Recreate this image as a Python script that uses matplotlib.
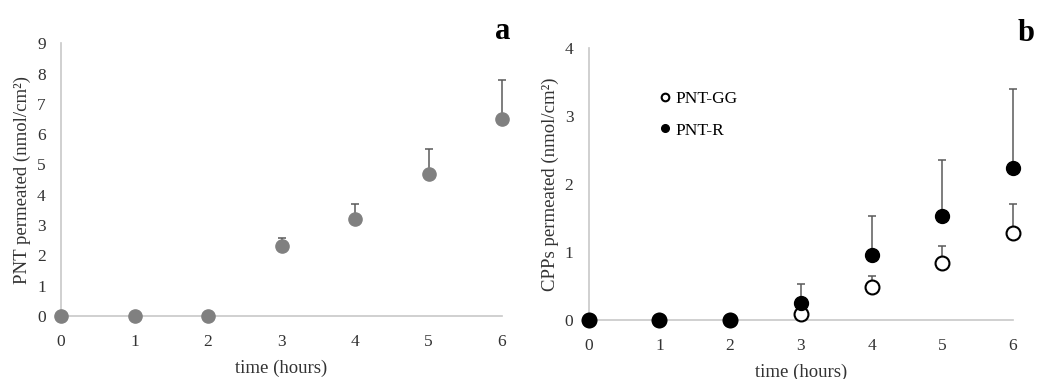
import matplotlib.pyplot as plt
import numpy as np

plt.rcParams['font.family'] = ['Liberation Serif', 'DejaVu Serif']

hours = [0, 1, 2, 3, 4, 5, 6]

# panel a
pnt = [0, 0, 0, 2.3, 3.2, 4.7, 6.5]
pnt_err = [0, 0, 0, 0.28, 0.5, 0.8, 1.3]

# panel b
pnt_gg = [0, 0, 0, 0.09, 0.48, 0.83, 1.27]
pnt_gg_err = [0, 0, 0, 0, 0.17, 0.25, 0.43]
pnt_r = [0, 0, 0, 0.25, 0.95, 1.52, 2.23]
pnt_r_err = [0, 0, 0, 0.28, 0.58, 0.83, 1.17]

fig = plt.figure(figsize=(10.4, 3.79), dpi=100)
ax1 = fig.add_axes([0.0587, 0.166, 0.424, 0.720])
ax2 = fig.add_axes([0.566, 0.156, 0.408, 0.718])

err_col = '#5a5a5a'
spine_col = '#c8c8c8'


def style(ax, ymax, ylabel):
    ax.set_xlim(0, 6)
    ax.set_ylim(0, ymax)
    ax.set_xticks(hours)
    ax.set_yticks(range(ymax + 1))
    for s in ['top', 'right']:
        ax.spines[s].set_visible(False)
    for s in ['left', 'bottom']:
        ax.spines[s].set_color(spine_col)
        ax.spines[s].set_linewidth(1.2)
    ax.tick_params(length=0, labelsize=12.5, colors='#333333', pad=11)
    ax.tick_params(axis='x', pad=13)
    ax.set_xlabel('time (hours)', fontsize=13.5, color='#333333', labelpad=7)
    ax.set_ylabel(ylabel, fontsize=13.5, color='#333333', labelpad=4)


# panel a
ax1.errorbar(hours, pnt, yerr=[np.zeros(7), pnt_err], fmt='none',
             ecolor=err_col, elinewidth=1.1, capsize=3, capthick=1.1,
             clip_on=False, zorder=2)
ax1.plot(hours, pnt, 'o', color='#808080', markersize=9.5, clip_on=False, zorder=3)
style(ax1, 9, 'PNT permeated (nmol/cm²)')
ax1.text(0.985, 0.99, 'a', transform=ax1.transAxes, fontsize=22,
         fontweight='bold', ha='left', va='bottom')

# panel b
ax2.errorbar(hours, pnt_r, yerr=[np.zeros(7), pnt_r_err], fmt='none',
             ecolor=err_col, elinewidth=1.1, capsize=3, capthick=1.1,
             clip_on=False, zorder=2)
ax2.errorbar(hours, pnt_gg, yerr=[np.zeros(7), pnt_gg_err], fmt='none',
             ecolor=err_col, elinewidth=1.1, capsize=3, capthick=1.1,
             clip_on=False, zorder=2)
ax2.plot(hours, pnt_gg, 'o', mfc='white', mec='black', mew=1.5,
         markersize=10, clip_on=False, zorder=3, label='PNT-GG')
ax2.plot(hours, pnt_r, 'o', color='black', markersize=10,
         clip_on=False, zorder=4, label='PNT-R')
style(ax2, 4, 'CPPs permeated (nmol/cm²)')
ax2.legend(loc='upper left', bbox_to_anchor=(0.13, 0.9), frameon=False,
           fontsize=12.5, markerscale=0.55, handlelength=0.6,
           handletextpad=0.3, labelspacing=0.9)
ax2.text(1.01, 1.0, 'b', transform=ax2.transAxes, fontsize=22,
         fontweight='bold', ha='left', va='bottom')

fig.savefig('out.png', dpi=100)
